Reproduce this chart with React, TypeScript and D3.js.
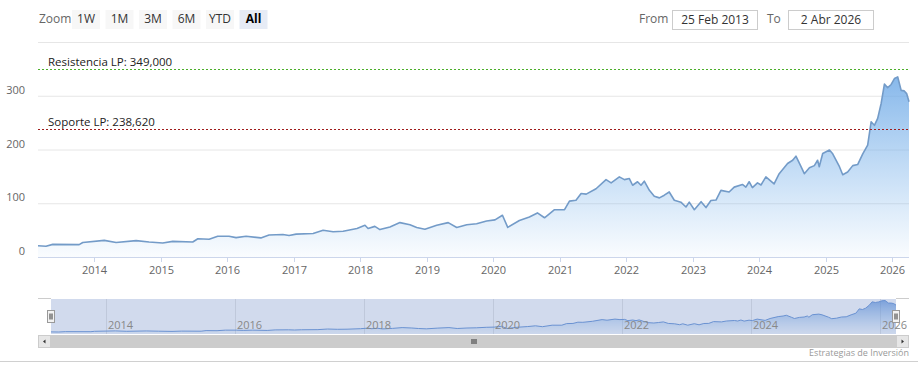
import React from "react";
import * as d3 from "d3";

// price series
const priceDates = [
  "2013-02-25", "2013-04-10", "2013-05-17", "2013-10-09", "2013-10-29", "2014-02-24", "2014-04-30", "2014-08-18",
  "2014-10-28", "2015-01-11", "2015-03-07", "2015-06-25", "2015-07-23", "2015-09-23", "2015-11-09", "2016-01-10",
  "2016-02-18", "2016-04-13", "2016-07-03", "2016-08-17", "2016-11-01", "2016-12-05", "2017-01-13", "2017-04-16",
  "2017-06-10", "2017-08-04", "2017-09-28", "2017-12-13", "2018-01-26", "2018-02-12", "2018-03-21", "2018-04-18",
  "2018-06-12", "2018-08-06", "2018-09-30", "2018-11-06", "2018-12-21", "2019-02-24", "2019-04-28", "2019-06-14",
  "2019-08-08", "2019-10-01", "2019-11-25", "2020-01-10", "2020-02-20", "2020-03-20", "2020-05-23", "2020-07-17",
  "2020-08-30", "2020-10-08", "2020-12-02", "2021-01-26", "2021-02-22", "2021-03-30", "2021-04-27", "2021-05-25",
  "2021-07-18", "2021-09-11", "2021-10-09", "2021-11-23", "2021-12-21", "2022-01-17", "2022-02-04", "2022-03-03",
  "2022-03-22", "2022-04-09", "2022-05-07", "2022-06-03", "2022-07-01", "2022-07-28", "2022-08-24", "2022-09-21",
  "2022-10-27", "2022-11-24", "2022-12-12", "2023-01-09", "2023-02-15", "2023-03-14", "2023-04-10", "2023-05-08",
  "2023-06-04", "2023-07-19", "2023-08-16", "2023-09-30", "2023-10-19", "2023-11-06", "2023-11-24", "2023-12-22",
  "2024-01-10", "2024-02-06", "2024-03-22", "2024-04-19", "2024-06-04", "2024-07-02", "2024-07-20", "2024-08-17",
  "2024-09-04", "2024-10-02", "2024-10-29", "2024-11-16", "2024-11-25", "2024-12-14", "2025-01-20", "2025-02-07",
  "2025-03-16", "2025-04-03", "2025-04-30", "2025-05-28", "2025-06-24", "2025-07-22", "2025-08-18", "2025-09-06",
  "2025-09-24", "2025-10-12", "2025-10-31", "2025-11-18", "2025-12-06", "2025-12-25", "2026-01-12", "2026-01-30",
  "2026-02-18", "2026-03-07", "2026-03-20", "2026-04-02",
];
const priceValues = [
  21, 20, 23.5, 23, 27, 31, 27, 30.5,
  28, 26, 29, 28, 34, 33, 38.5, 38.5,
  36, 38.5, 35.5, 41, 42, 40, 42.5, 43.6,
  49.7, 47, 48, 53, 59, 53, 57, 51,
  56, 64, 60, 55, 51.6, 59, 64, 55,
  60, 62, 67, 69, 77.6, 55, 68, 74.5,
  82, 73, 88, 88, 104, 105.5, 118, 117,
  127, 144, 138, 149, 144, 146, 133.5, 140,
  133.5, 141, 124, 113, 110, 115, 121, 105.6,
  102, 93, 102, 88, 103, 92, 105, 106,
  124, 121, 130, 135, 130, 140, 129, 138,
  134, 149, 136, 155, 174, 180, 187.5, 168,
  155, 166, 170, 180, 168, 192.6, 199, 192,
  168, 153, 158, 170, 172, 192, 208, 251.5,
  245, 258, 285.6, 321.6, 315, 321, 332, 335,
  310, 309, 304, 289,
];

const yTicks = [0, 100, 200, 300, 400];
const yearTicks = [2014, 2015, 2016, 2017, 2018, 2019, 2020, 2021, 2022, 2023, 2024, 2025, 2026];
const navYearTicks = [2014, 2016, 2018, 2020, 2022, 2024, 2026];
const zoomButtons = ["1W", "1M", "3M", "6M", "YTD", "All"];
const selectedButton = "All";
const fromLabel = "25 Feb 2013";
const toLabel = "2 Abr 2026";
const resistance = 349;
const support = 238.62;
const resistanceLabel = "Resistencia LP: 349,000";
const supportLabel = "Soporte LP: 238,620";
const credits = "Estrategias de Inversión";

const W = 918;
const H = 372;
const FONT = "'Open Sans', 'DejaVu Sans', sans-serif";

export default function App() {
  const parse = d3.timeParse("%Y-%m-%d");
  const data = priceDates.map((d, i) => ({ date: parse(d) as Date, value: priceValues[i] }));
  const start = data[0].date;
  const end = data[data.length - 1].date;

  // main plot
  const plot = { left: 38, right: 909, top: 42, bottom: 257 };
  const x = d3.scaleTime().domain([start, end]).range([plot.left, plot.right]);
  const y = d3.scaleLinear().domain([0, 400]).range([plot.bottom, plot.top]);

  const area = d3
    .area<{ date: Date; value: number }>()
    .x((d) => x(d.date))
    .y0(y(0))
    .y1((d) => y(d.value));
  const line = d3
    .line<{ date: Date; value: number }>()
    .x((d) => x(d.date))
    .y((d) => y(d.value));

  // navigator
  const nav = { left: 51, right: 896, top: 299, bottom: 334 };
  const nx = d3.scaleTime().domain([start, end]).range([nav.left, nav.right]);
  const ny = d3.scaleLinear().domain([0, 340]).range([nav.bottom, nav.top + 1]);
  const navArea = d3
    .area<{ date: Date; value: number }>()
    .x((d) => nx(d.date))
    .y0(nav.bottom)
    .y1((d) => ny(d.value));
  const navLine = d3
    .line<{ date: Date; value: number }>()
    .x((d) => nx(d.date))
    .y((d) => ny(d.value));

  const sb = { top: 335, h: 13 };
  const thumbMid = (nav.left + nav.right) / 2;
  const rY = Math.round(y(resistance)) + 0.5;
  const sY = Math.round(y(support)) + 0.5;

  return (
    <svg
      width={W}
      height={H}
      style={{ position: "absolute", left: 0, top: 0, background: "#fff" }}
      fontFamily={FONT}
    >
      <defs>
        <linearGradient id="mainFill" gradientUnits="userSpaceOnUse" x1={0} y1={plot.top} x2={0} y2={plot.bottom}>
          <stop offset="0" stopColor="#6fa9e6" stopOpacity={1} />
          <stop offset="1" stopColor="#7cb5ec" stopOpacity={0.04} />
        </linearGradient>
        <linearGradient id="navFill" gradientUnits="userSpaceOnUse" x1={0} y1={nav.top} x2={0} y2={nav.bottom}>
          <stop offset="0" stopColor="#4a86d8" stopOpacity={0.7} />
          <stop offset="1" stopColor="#7cb5ec" stopOpacity={0.05} />
        </linearGradient>
      </defs>

      {/* range selector */}
      <text x={39} y={23} fontSize={12} fill="#666">Zoom</text>
      {zoomButtons.map((b, i) => {
        const bx = 72 + i * 33.5;
        const sel = b === selectedButton;
        return (
          <g key={b}>
            <rect x={bx} y={10} width={28} height={19} fill={sel ? "#e6ebf5" : "#f7f7f7"} />
            <text
              x={bx + 14}
              y={23}
              fontSize={12}
              textAnchor="middle"
              fill={sel ? "#000" : "#333"}
              fontWeight={sel ? 700 : 400}
            >
              {b}
            </text>
          </g>
        );
      })}

      <text x={639} y={23} fontSize={12} fill="#666">From</text>
      <rect x={672.5} y={10.5} width={85} height={19} fill="#fff" stroke="#cccccc" />
      <text x={715} y={24} fontSize={12} textAnchor="middle" fill="#333">{fromLabel}</text>
      <text x={767} y={23} fontSize={12} fill="#666">To</text>
      <rect x={788.5} y={10.5} width={85} height={19} fill="#fff" stroke="#cccccc" />
      <text x={831} y={24} fontSize={12} textAnchor="middle" fill="#333">{toLabel}</text>

      {/* grid + y labels */}
      {yTicks.map((t) => (
        <g key={t}>
          {t > 0 && (
            <line x1={plot.left} x2={plot.right} y1={y(t) + 0.5} y2={y(t) + 0.5} stroke="#e6e6e6" />
          )}
          {t < 400 && (
            <text x={25} y={y(t) - 2} fontSize={11} textAnchor="end" fill="#666">
              {t}
            </text>
          )}
        </g>
      ))}

      {/* series */}
      <path d={area(data) ?? ""} fill="url(#mainFill)" />
      <path d={line(data) ?? ""} fill="none" stroke="#739bc8" strokeWidth={1.6} strokeLinejoin="round" />

      {/* plot lines */}
      <line
        x1={plot.left}
        x2={plot.right}
        y1={rY}
        y2={rY}
        stroke="#4caf2a"
        strokeDasharray="2,2"
        strokeWidth={1}
      />
      <text x={48} y={rY - 3.5} fontSize={11.5} fill="#222">{resistanceLabel}</text>
      <line
        x1={plot.left}
        x2={plot.right}
        y1={sY}
        y2={sY}
        stroke="#a01c1c"
        strokeDasharray="2,2"
        strokeWidth={1}
      />
      <text x={48} y={sY - 3.5} fontSize={11.5} fill="#222">{supportLabel}</text>

      {/* x axis */}
      <line x1={plot.left} x2={plot.right} y1={plot.bottom + 0.5} y2={plot.bottom + 0.5} stroke="#ccd6eb" />
      {yearTicks.map((yr) => {
        const tx = Math.round(x(new Date(yr, 0, 1))) + 0.5;
        return (
          <g key={yr}>
            <line x1={tx} x2={tx} y1={plot.bottom} y2={plot.bottom + 5} stroke="#ccd6eb" />
            <text x={tx} y={274} fontSize={11} textAnchor="middle" fill="#666">
              {yr}
            </text>
          </g>
        );
      })}

      {/* navigator */}
      {navYearTicks.map((yr) => {
        const tx = Math.round(nx(new Date(yr, 0, 1))) + 0.5;
        return (
          <line key={yr} x1={tx} x2={tx} y1={nav.top} y2={nav.bottom} stroke="#e6e6e6" />
        );
      })}
      <path d={navArea(data) ?? ""} fill="url(#navFill)" />
      <path d={navLine(data) ?? ""} fill="none" stroke="#6c98d8" strokeWidth={1} />
      <rect
        x={nav.left}
        y={nav.top}
        width={nav.right - nav.left}
        height={nav.bottom - nav.top}
        fill="rgba(102,133,194,0.3)"
      />
      {navYearTicks.map((yr) => {
        const tx = Math.round(nx(new Date(yr, 0, 1)));
        return (
          <text key={yr} x={tx + 2} y={329} fontSize={11} fill="#888">
            {yr}
          </text>
        );
      })}
      <path
        d={`M${plot.left},${nav.top - 0.5}H${nav.left}M${nav.right},${nav.top - 0.5}H${plot.right}`}
        stroke="#cccccc"
        fill="none"
      />
      {[nav.left, nav.right].map((hx) => (
        <g key={hx} transform={`translate(${Math.round(hx) - 3.5},${310.5})`}>
          <rect x={0} y={0} width={7} height={12} fill="#f2f2f2" stroke="#999" />
          <line x1={2.5} x2={2.5} y1={3} y2={9} stroke="#333" />
          <line x1={4.5} x2={4.5} y1={3} y2={9} stroke="#333" />
        </g>
      ))}

      {/* scrollbar */}
      <rect x={plot.left} y={sb.top} width={plot.right - plot.left} height={sb.h} fill="#f2f2f2" />
      <rect x={nav.left} y={sb.top} width={nav.right - nav.left} height={sb.h} fill="#cccccc" />
      {[-2, 0, 2].map((o) => (
        <line
          key={o}
          x1={thumbMid + o + 0.5}
          x2={thumbMid + o + 0.5}
          y1={sb.top + 4}
          y2={sb.top + 9}
          stroke="#333"
        />
      ))}
      <rect x={plot.left + 0.5} y={sb.top + 0.5} width={12} height={12} fill="#e6e6e6" stroke="#cccccc" />
      <path
        d={`M${plot.left + 7.5},${sb.top + 4.5}L${plot.left + 5},${sb.top + 6.5}L${plot.left + 7.5},${sb.top + 8.5}Z`}
        fill="#333"
      />
      <rect x={nav.right + 0.5} y={sb.top + 0.5} width={12} height={12} fill="#e6e6e6" stroke="#cccccc" />
      <path
        d={`M${nav.right + 5.5},${sb.top + 4.5}L${nav.right + 8},${sb.top + 6.5}L${nav.right + 5.5},${sb.top + 8.5}Z`}
        fill="#333"
      />

      {/* credits + bottom border */}
      <text x={909} y={356} fontSize={9} textAnchor="end" fill="#999">
        {credits}
      </text>
      <line x1={0} x2={W} y1={361.5} y2={361.5} stroke="#d0d0d0" />
    </svg>
  );
}
